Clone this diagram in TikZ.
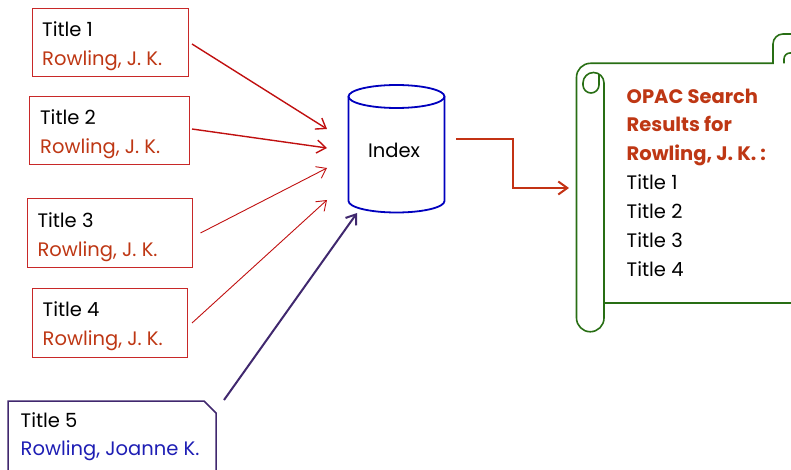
\documentclass[tikz,border=0pt]{standalone}
\usepackage{fontspec}
\setmainfont{Poppins}
\usetikzlibrary{arrows.meta}
\definecolor{boxred}{RGB}{200,40,40}
\definecolor{authred}{RGB}{190,55,20}
\definecolor{arrowred}{RGB}{192,16,16}
\definecolor{purp}{RGB}{64,40,110}
\definecolor{jblue}{RGB}{30,30,180}
\definecolor{cylblue}{RGB}{0,0,190}
\definecolor{scrollgreen}{RGB}{40,110,20}
\definecolor{orthored}{RGB}{195,50,20}
\tikzset{
  titlebox/.style={draw=boxred, line width=1pt, inner sep=0pt},
  lbl/.style={anchor=base west, inner sep=0pt, font=\fontsize{19.5}{23}\selectfont},
  ttl/.style={lbl, text=black},
  auth/.style={lbl, text=authred},
  hdr/.style={lbl, text=authred, font=\fontsize{19.5}{23}\selectfont\bfseries},
  barb/.style={-{Straight Barb[length=9pt,width=13pt]}},
}
\begin{document}
\begin{tikzpicture}[x=1pt,y=-1pt]
\useasboundingbox (0,0) rectangle (791,470);
% boxes
\node[titlebox, minimum width=156pt, minimum height=68pt] (b1) at (110,43) {};
\node[titlebox, minimum width=160pt, minimum height=68pt] (b2) at (109,131) {};
\node[titlebox, minimum width=165pt, minimum height=68pt] (b3) at (109.5,233) {};
\node[titlebox, minimum width=155pt, minimum height=69pt] (b4) at (109.5,322.5) {};
\node[inner sep=0pt, minimum width=208pt, minimum height=80pt] (b5) at (112,441) {};
\draw[purp, line width=1.5pt] (8,482) -- (8,401) -- (204,401) -- (216,413) -- (216,482);
% box texts
\node[ttl] (t1) at (42,37) {Title 1};
\node[auth] (a1) at (42,66) {Rowling, J. K.};
\node[ttl] (t2) at (40,125) {Title 2};
\node[auth] (a2) at (40,154) {Rowling, J. K.};
\node[ttl] (t3) at (37.3,227) {Title 3};
\node[auth] (a3) at (37.3,256) {Rowling, J. K.};
\node[ttl] (t4) at (42.5,316) {Title 4};
\node[auth] (a4) at (42.5,345) {Rowling, J. K.};
\node[ttl] (t5) at (20.5,427) {Title 5};
\node[lbl, text=jblue] (a5) at (20.5,455) {Rowling, Joanne K.};
% index cylinder
\node[inner sep=0pt, minimum width=96pt, minimum height=128pt] (idx) at (396.5,149) {};
\draw[cylblue, line width=1.8pt] (396.5,96.5) ellipse[x radius=48, y radius=11.5];
\draw[cylblue, line width=1.8pt] (348.5,96.5) -- (348.5,201) arc[start angle=180, end angle=0, x radius=48, y radius=11.5] -- (444.5,96.5);
\node[lbl, anchor=base] (idxlbl) at (394,157.3) {Index};
% scroll
\node[inner sep=0pt, minimum width=215pt, minimum height=268pt] (scroll) at (683.5,198) {};
\begin{scope}[scrollgreen, line width=1.6pt]
\draw (604,83) -- (604,318) arc[start angle=0, end angle=180, radius=13.75] -- (576.5,77.3) arc[start angle=180, end angle=270, radius=14] -- (773,63.3) -- (773,44) arc[start angle=180, end angle=270, radius=10] -- (792,34);
\draw (604,83) arc[start angle=0, end angle=-180, radius=10.5] -- (583,85) arc[start angle=180, end angle=0, radius=8] -- (599,74);
\draw (604,303) -- (792,303);
\draw (784,63.3) -- (784,59) arc[start angle=180, end angle=270, radius=6] -- (792,53);
\end{scope}
\node[hdr] (r1) at (626.5,103.3) {OPAC Search};
\node[hdr] (r2) at (626.5,132) {Results for};
\node[hdr] (r3) at (626.5,161) {Rowling, J. K. :};
\node[ttl] (r4) at (626.5,190) {Title 1};
\node[ttl] (r5) at (626.5,218.5) {Title 2};
\node[ttl] (r6) at (626.5,247) {Title 3};
\node[ttl] (r7) at (626.5,276) {Title 4};
% connectors
\coordinate (s1) at (192,44);   \coordinate (e1) at (327,129);
\coordinate (s2) at (192,129);  \coordinate (e2) at (327,148);
\coordinate (s3) at (200.5,233);\coordinate (e3) at (327,168);
\coordinate (s4) at (192,323);  \coordinate (e4) at (327,200);
\coordinate (s5) at (224,400);  \coordinate (e5) at (357,213);
\coordinate (s6) at (456,139);  \coordinate (e6) at (569,188);
\draw[arrowred, line width=1.4pt, barb] (s1) -- (e1);
\draw[arrowred, line width=1.4pt, barb] (s2) -- (e2);
\draw[arrowred, line width=0.9pt, barb] (s3) -- (e3);
\draw[arrowred, line width=0.9pt, barb] (s4) -- (e4);
\draw[purp, line width=2pt, barb] (s5) -- (e5);
\draw[orthored, line width=2pt, barb] (s6) -- ++(56.5,0) |- (e6);
\end{tikzpicture}
\end{document}
